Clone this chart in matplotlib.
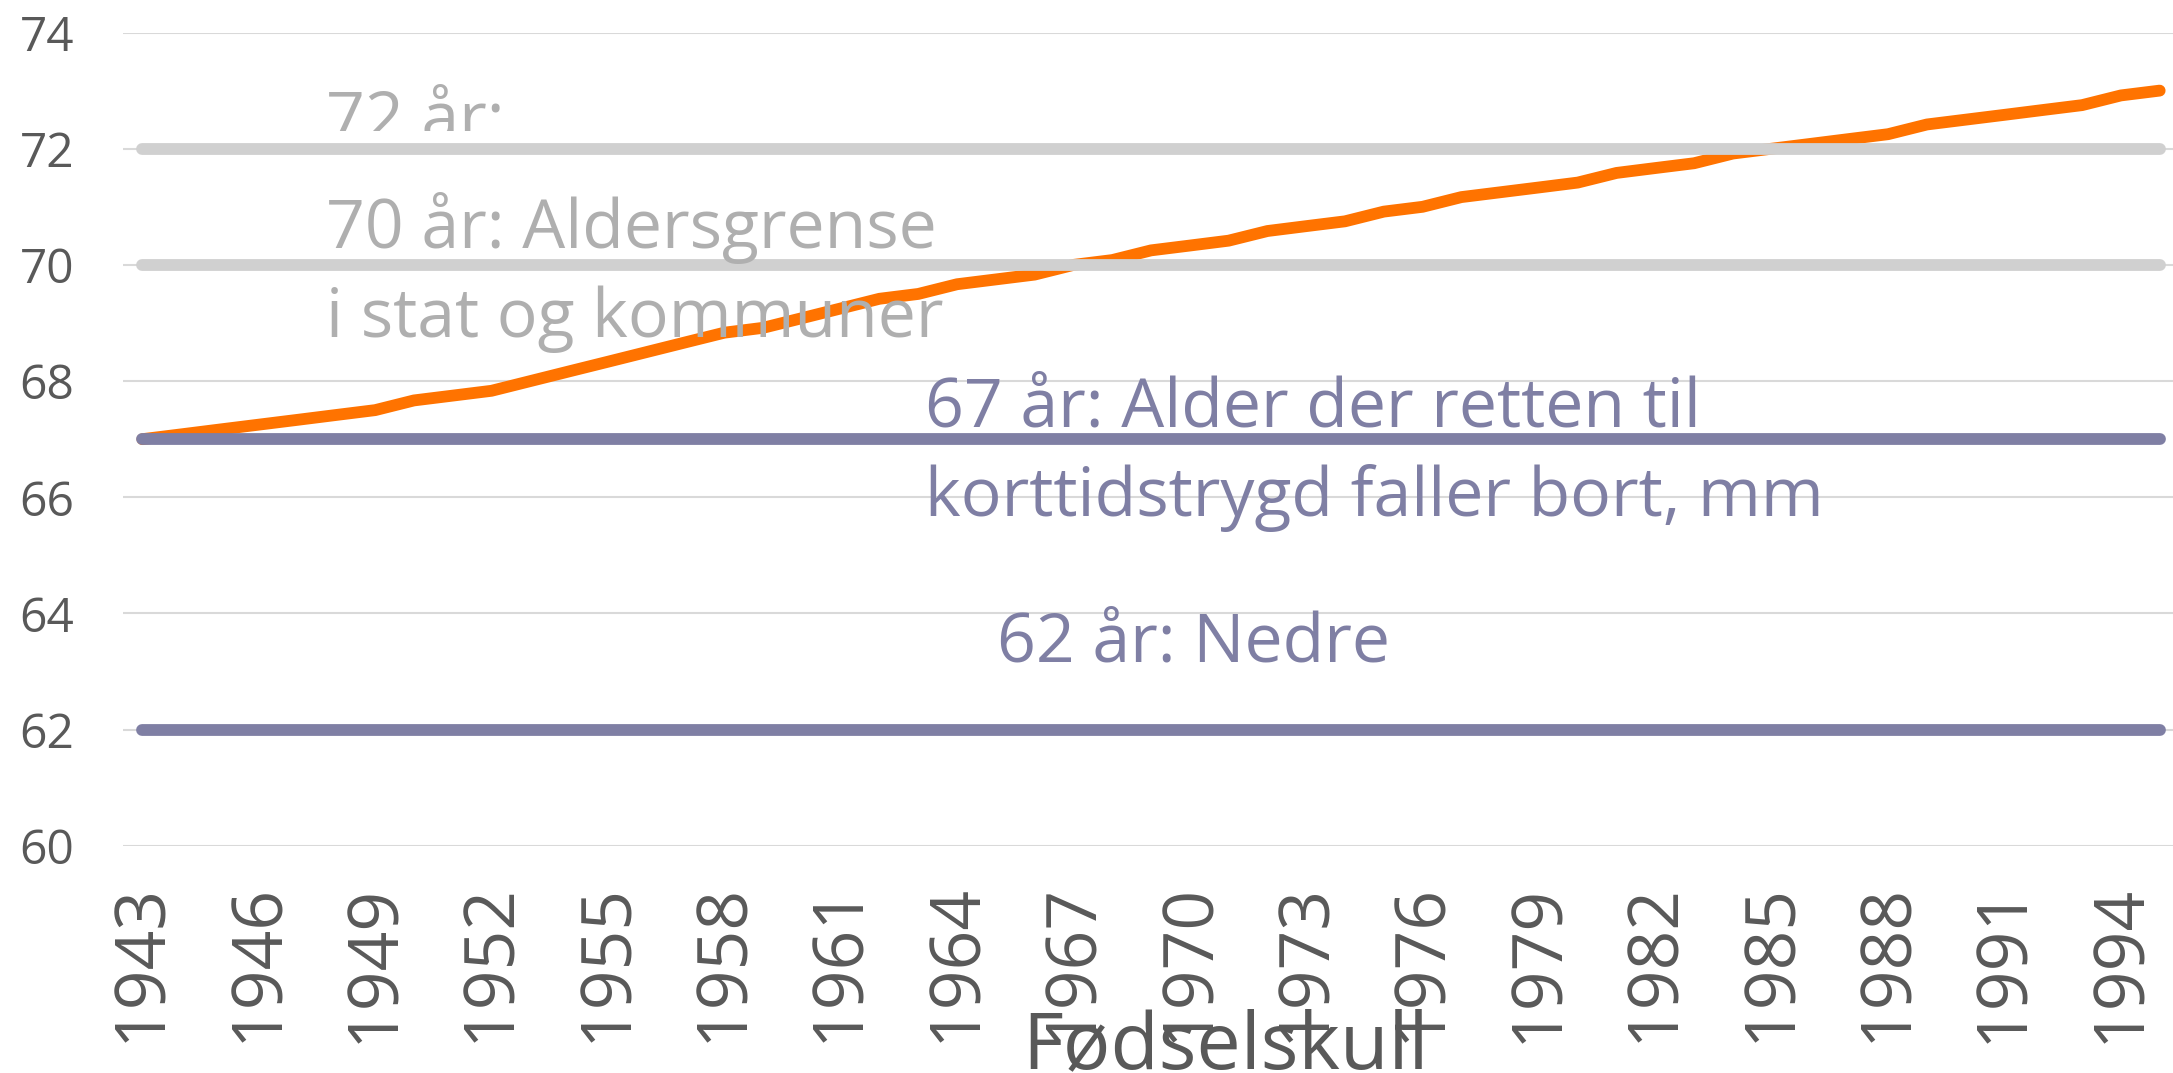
import matplotlib
matplotlib.use("Agg")
import matplotlib.pyplot as plt
from matplotlib.transforms import Bbox

# data
years = list(range(1943, 1996))
aldersgrense = [
    67.000, 67.083, 67.167, 67.250, 67.333, 67.417, 67.500, 67.667, 67.750, 67.833,
    68.000, 68.167, 68.333, 68.500, 68.667, 68.833, 68.917, 69.083, 69.250, 69.417,
    69.500, 69.667, 69.750, 69.833, 70.000, 70.083, 70.250, 70.333, 70.417, 70.583,
    70.667, 70.750, 70.917, 71.000, 71.167, 71.250, 71.333, 71.417, 71.583, 71.667,
    71.750, 71.917, 72.000, 72.083, 72.167, 72.250, 72.417, 72.500, 72.583, 72.667,
    72.750, 72.917, 73.000,
]
faste_grenser = [72, 70, 67, 62]
grense_farger = ["#D0D0D0", "#D0D0D0", "#7F7FA4", "#7F7FA4"]
tick_years = list(range(1943, 1995, 3))
yticks = list(range(60, 75, 2))

plt.rcParams['font.family'] = ['Open Sans', 'DejaVu Sans']

fig = plt.figure(figsize=(21.73, 10.73), dpi=100)
ax = fig.add_axes([0.0566, 0.2117, 0.9462, 0.758])

# orange line first, fixed limits drawn on top of it
ax.plot(years, aldersgrense, color="#FF7300", lw=8.5,
        solid_capstyle="round", solid_joinstyle="round", zorder=3)
for lvl, col in zip(faste_grenser, grense_farger):
    ax.plot(years, [lvl] * len(years), color=col, lw=8.5,
            solid_capstyle="round", zorder=4)

ax.set_xlim(1942.5, 1995.5)
ax.set_ylim(60, 74)
ax.set_yticks(yticks)
ax.set_xticks(tick_years)
ax.set_xticklabels([str(y) for y in tick_years], rotation=90)
ax.grid(axis="y", color="#D9D9D9", lw=1.5, zorder=0)
ax.set_axisbelow(True)
for s in ax.spines.values():
    s.set_visible(False)
ax.tick_params(axis="y", length=0, pad=35, labelsize=34.5, labelcolor="#595959")
ax.tick_params(axis="x", length=0, pad=27, labelsize=50, labelcolor="#595959")

grey_txt = "#AFAFAF"
purple_txt = "#7F7FA4"
fs = 49
t72 = ax.text(1947.73, 72.15, "72 år:", color=grey_txt, fontsize=fs, va="baseline", zorder=6)
t72.set_clip_on(True)
t72.set_clip_box(Bbox.from_extents(0, 1073 - 131, 2173, 1073))
ax.text(1947.73, 70.29, "70 år: Aldersgrense", color=grey_txt, fontsize=fs, va="baseline", zorder=6)
ax.text(1947.73, 68.76, "i stat og kommuner", color=grey_txt, fontsize=fs, va="baseline", zorder=6)
ax.text(1963.17, 67.21, "67 år: Alder der retten til", color=purple_txt, fontsize=fs, va="baseline", zorder=6)
ax.text(1963.17, 65.68, "korttidstrygd faller bort, mm", color=purple_txt, fontsize=fs, va="baseline", zorder=6)
ax.text(1965.03, 63.17, "62 år: Nedre", color=purple_txt, fontsize=fs, va="baseline", zorder=6)

fig.text(0.564, 0.0047, "Fødselskull", color="#595959", fontsize=57,
         ha="center", va="baseline")

fig.savefig("out.png", dpi=100)
